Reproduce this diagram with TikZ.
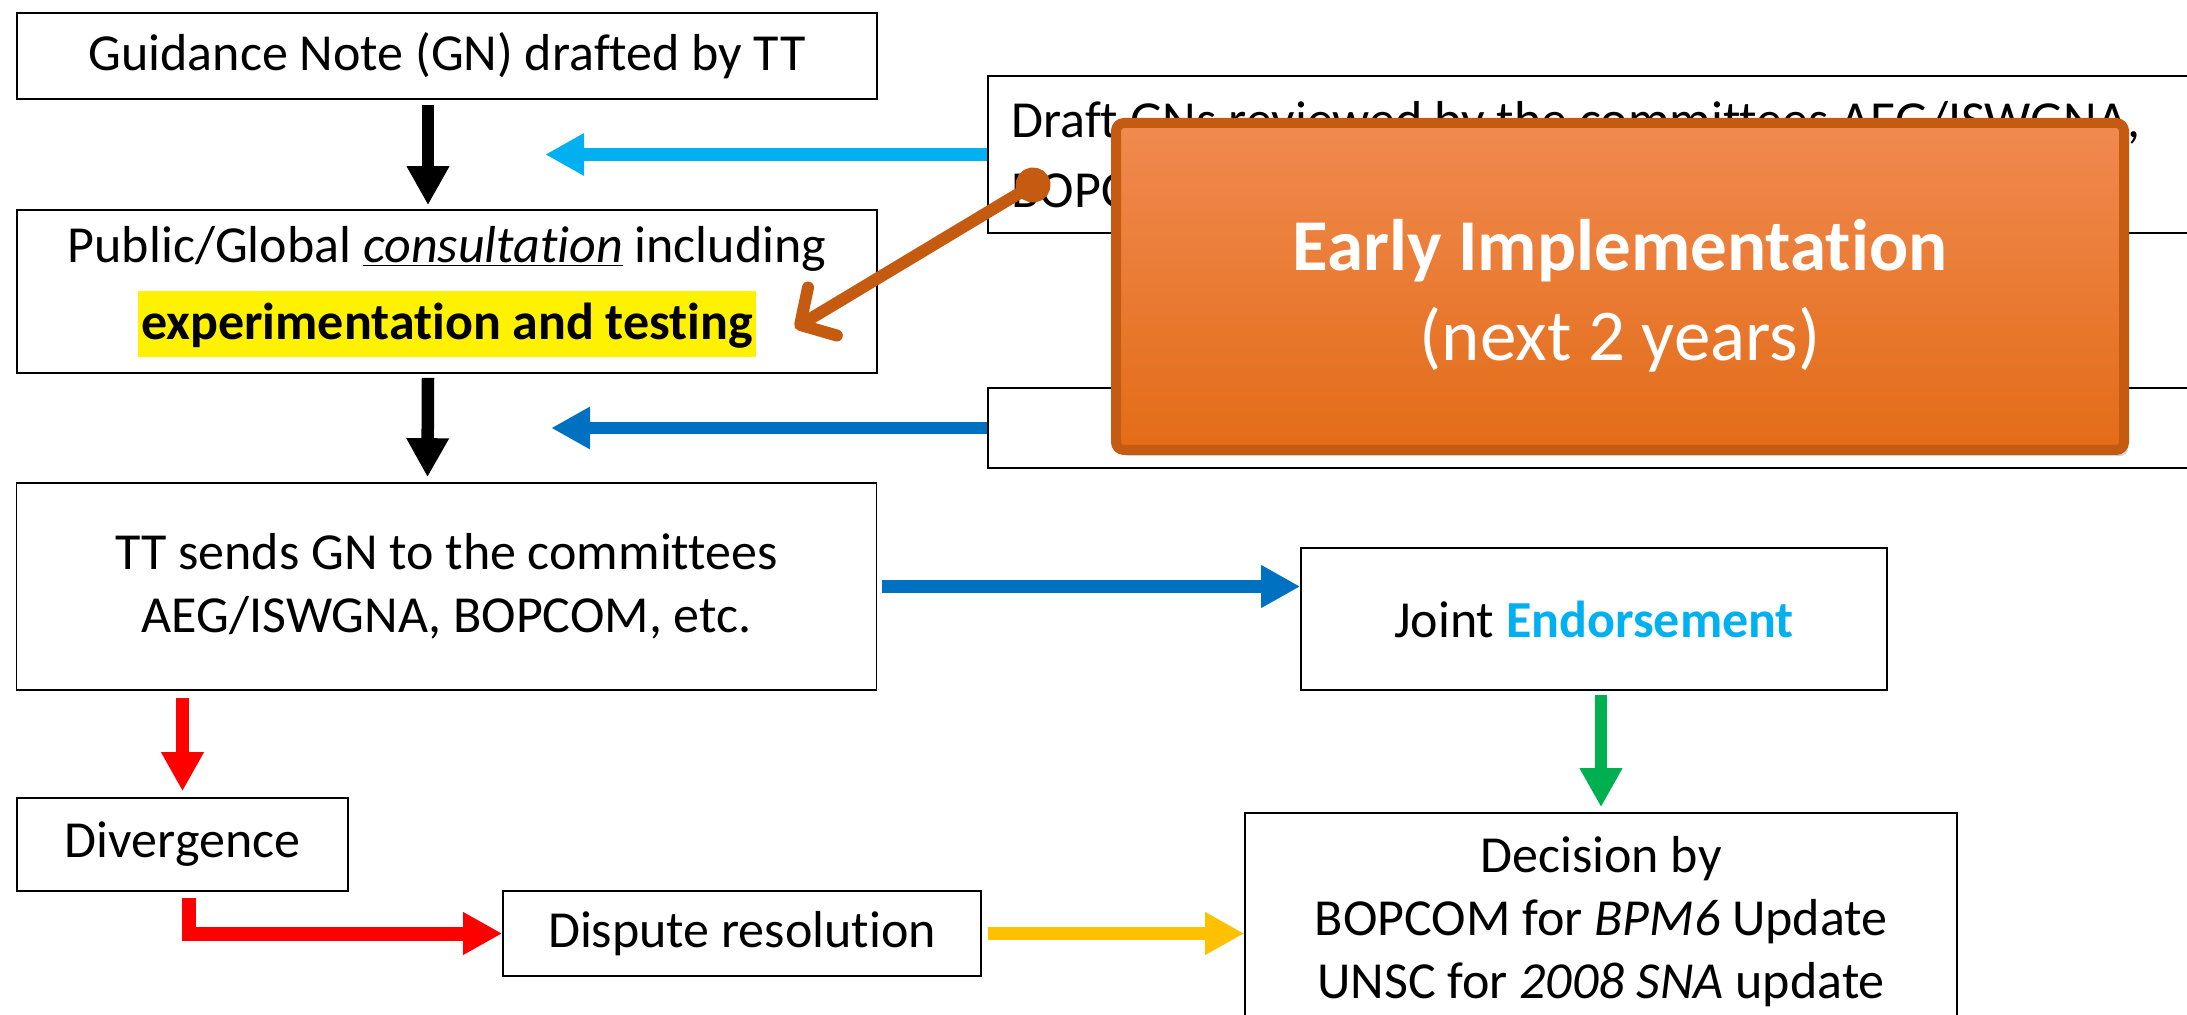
\documentclass[tikz,border=0pt]{standalone}
\usepackage{fontspec}
\setmainfont{Carlito}[Ligatures=NoCommon]
\usetikzlibrary{arrows.meta,shadows}
\definecolor{cyanb}{HTML}{00B0F0}
\definecolor{bleu}{HTML}{0070C0}
\definecolor{rouge}{HTML}{FF0000}
\definecolor{jaune}{HTML}{FFC000}
\definecolor{vert}{HTML}{00B050}
\definecolor{orangef}{HTML}{C55A11}
\definecolor{orangeh}{HTML}{F08A50}
\definecolor{orangem}{HTML}{F47D2C}
\definecolor{orangeb}{HTML}{E36C17}
\newcommand{\taille}{\fontsize{26}{31.5}\selectfont}
\newcommand{\approuve}[1]{\textcolor{cyanb}{\textbf{#1}}}
\newcommand{\surligne}[1]{{\setlength{\fboxsep}{1.5pt}\colorbox{yellow}{\rule[-7pt]{0pt}{30pt}\textbf{#1}}}}

\tikzset{
  boite/.style={draw=black, line width=0.8pt, fill=white, inner sep=0pt, align=center, font=\taille},
  fleche/.style={line width=6.25pt, -{Triangle[length=19.5pt,width=20pt]}},
  cadre/.style={draw=orangef, line width=5pt, rounded corners=4pt, top color=orangeh,
    middle color=orangem, bottom color=orangeb,
    drop shadow={shadow xshift=2pt, shadow yshift=-3pt, opacity=.35}},
  pointeur/.style={draw=orangef, line width=6pt,
    {Circle[length=17.5pt]}-{Straight Barb[length=13pt,width=28pt,round]}},
}

\begin{document}
\begin{tikzpicture}[x=0.5pt,y=-0.5pt]
\useasboundingbox (0,0) rectangle (2187,1015);
% colonne de gauche
\node[boite, minimum width=430pt, minimum height=43pt] (gn) at (447,56) {Guidance Note (GN) drafted by TT};
\node[boite, minimum width=430pt, minimum height=81.5pt] (consult) at (447,291.5)
  {Public/Global \underline{\textit{consultation}} including\\[7pt]\surligne{experimentation and testing}};
\node[boite, minimum width=430pt, minimum height=103.5pt] (sends) at (446.5,586.5)
  {TT sends GN to the committees\\AEG/ISWGNA, BOPCOM, etc.};
\node[boite, minimum width=165.5pt, minimum height=46.5pt] (diverge) at (182.5,844.5) {Divergence};
\node[boite, minimum width=239pt, minimum height=42.5pt] (dispute) at (742,933.5) {Dispute resolution};
% colonne de droite
\node[boite, minimum width=293pt, minimum height=71pt] (joint) at (1594,619) {Joint \approuve{Endorsement}};
\node[boite, minimum width=356pt, minimum height=109pt] (decision) at (1601,922)
  {Decision by\\BOPCOM for \textit{BPM6} Update\\UNSC for \textit{2008 SNA} update};
\node[boite, minimum width=611pt, minimum height=78.5pt] (draft) at (1599,154.5) {};
\node[font=\taille, align=left, anchor=base west, inner sep=0pt] (drafttxt) at (1011,208)
  {Draft GNs reviewed by the committees AEG/ISWGNA,\\[3.5pt]BOPCOM, etc.};
\node[boite, minimum width=611pt, minimum height=40pt] (comments) at (1599,428) {};

% fleches
\draw[fleche, black] ([xshift=-9.5pt,yshift=-2.5pt]gn.south) -- ([xshift=-9.5pt,yshift=2pt]consult.north);
\draw[fleche, black] ([xshift=-9.5pt,yshift=-2pt]consult.south) -- ([xshift=-9.5pt,yshift=2.5pt]sends.north);
\draw[fleche, cyanb] (draft.west) -- ([xshift=-221pt]draft.west);
\draw[fleche, bleu] (comments.west) -- ([xshift=-218pt]comments.west);
\draw[fleche, bleu] ([xshift=2.5pt]sends.east) -- (joint.west |- sends.east);
\draw[fleche, rouge] ([yshift=-3.5pt]sends.south -| diverge.north) -- ([yshift=3pt]diverge.north);
\draw[fleche, rouge, line width=7pt] ([xshift=3.25pt,yshift=-3pt]diverge.south) |- (dispute.west);
\draw[fleche, jaune] ([xshift=3pt]dispute.east) -- (decision.west |- dispute.east);
\draw[fleche, vert] ([yshift=-2pt]joint.south -| decision.north) -- ([yshift=2.5pt]decision.north);

% cadre orange
\coordinate (dot) at (1048,176);
\coordinate (hint) at (795,328);
\draw[pointeur] (dot) -- (hint);
\node[cadre, minimum width=504pt, minimum height=163.5pt] (early) at (1620,286.5) {};
\node[font=\fontsize{36.5}{45}\selectfont, text=white, align=center, inner sep=0pt] (earlytxt) at (1620,296)
  {\textbf{Early Implementation}\\(next 2 years)};
\end{tikzpicture}
\end{document}
